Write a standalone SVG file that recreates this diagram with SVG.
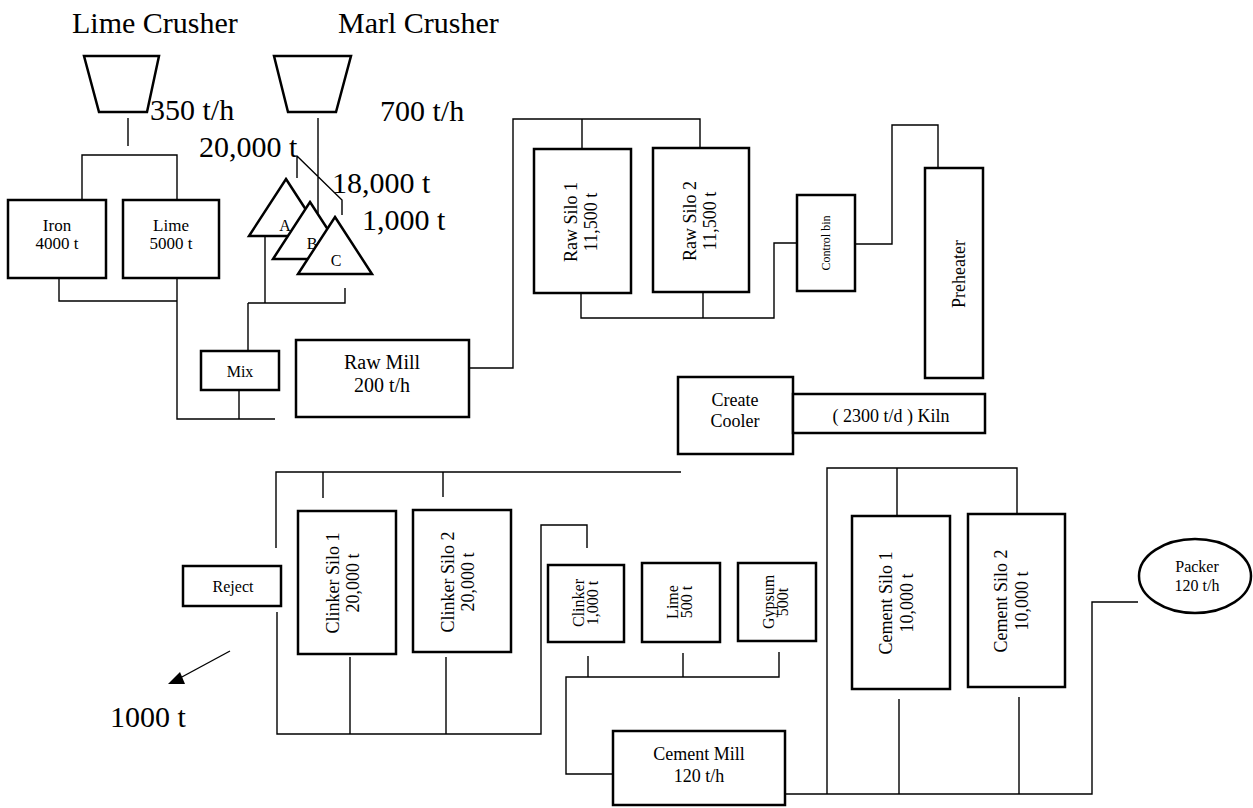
<svg xmlns="http://www.w3.org/2000/svg" width="1253" height="808" viewBox="0 0 1253 808">
<style>
text{font-family:"Liberation Serif","Times New Roman",serif;fill:#000}
.big{font-size:30px}
.lbl{font-size:18px;text-anchor:middle}
.sm{font-size:16px;text-anchor:middle}
.box{fill:#fff;stroke:#000;stroke-width:2.5}
.conn{fill:none;stroke:#000;stroke-width:1.4}
</style>
<rect width="1253" height="808" fill="#fff"/>
<g id="connectors" class="conn">
<path d="M128,118V146M82,200V155H177V200"/>
<path d="M318,118V213M297,156V178M297,156L342,200V215"/>
<path d="M265,236V303M248,303H345V288M248,303V351"/>
<path d="M59,278V301H177M177,278V419H275M239,391V419"/>
<path d="M469,368H513V119H700V148M582,119V149"/>
<path d="M581,293V318H774V243H797M703,292V318"/>
<path d="M855,244H892V125H938V168"/>
<path d="M276,548V472H681M277,612V734H541V525H587V548M323,472V498M443,472V497M350,657V734M446,657V734"/>
<path d="M588,656V677M683,653V677M779,652V677H566V774H613"/>
<path d="M785,794H1092V602H1138M827,794V468H1017V513M897,468V515M899,699V794M1019,697V794"/>
<path d="M230,651L180,678"/>
<polygon points="168,684 180,672 185,684" fill="#000" stroke="none"/>
</g>
<g id="lime-crusher">
<text class="big" x="72" y="33">Lime Crusher</text>
<polygon class="box" points="84,56 159,56 147,112 99,112"/>
<text class="big" x="150" y="120">350 t/h</text>
</g>
<g id="marl-crusher">
<text class="big" x="338" y="33">Marl Crusher</text>
<polygon class="box" points="274,56 351,56 336,112 288,112"/>
<text class="big" x="380" y="121">700 t/h</text>
</g>
<g id="stock-labels">
<text class="big" x="199" y="157">20,000 t</text>
<text class="big" x="332" y="193">18,000 t</text>
<text class="big" x="362" y="230">1,000 t</text>
</g>
<g id="pile-a">
<polygon class="box" points="286,179 323,236 249,236"/>
<text class="sm" x="285" y="231">A</text>
</g>
<g id="pile-b">
<polygon class="box" points="310,202 347,259 273,259"/>
<text class="sm" x="312" y="249">B</text>
</g>
<g id="pile-c">
<polygon class="box" points="335,217 372,274 298,274"/>
<text class="sm" x="336" y="266">C</text>
</g>
<g id="iron">
<rect class="box" x="8" y="200" width="98" height="78"/>
<text class="sm" x="57" y="231" style="font-size:17px">Iron</text>
<text class="sm" x="57" y="249" style="font-size:17px">4000 t</text>
</g>
<g id="lime">
<rect class="box" x="123" y="200" width="96" height="78"/>
<text class="sm" x="171" y="231" style="font-size:17px">Lime</text>
<text class="sm" x="171" y="249" style="font-size:17px">5000 t</text>
</g>
<g id="mix">
<rect class="box" x="201" y="351" width="78" height="39"/>
<text class="sm" x="240" y="377">Mix</text>
</g>
<g id="raw-mill">
<rect class="box" x="296" y="340" width="173" height="77"/>
<text class="lbl" x="382" y="369" style="font-size:20px">Raw Mill</text>
<text class="lbl" x="382" y="392" style="font-size:20px">200 t/h</text>
</g>
<g id="raw-silo-1">
<rect class="box" x="534" y="149" width="97" height="144"/>
<text class="lbl" transform="translate(582,222) rotate(-90)"><tspan x="0" y="-5">Raw Silo 1</tspan><tspan x="0" y="15">11,500 t</tspan></text>
</g>
<g id="raw-silo-2">
<rect class="box" x="653" y="148" width="96" height="144"/>
<text class="lbl" transform="translate(701,221) rotate(-90)"><tspan x="0" y="-5">Raw Silo 2</tspan><tspan x="0" y="15">11,500 t</tspan></text>
</g>
<g id="control-bin">
<rect class="box" x="797" y="195" width="58" height="96"/>
<text class="sm" transform="translate(826,243) rotate(-90)" style="font-size:12px"><tspan x="0" y="4">Control bin</tspan></text>
</g>
<g id="preheater">
<rect class="box" x="925" y="168" width="58" height="210"/>
<text class="lbl" transform="translate(954,274) rotate(-90)"><tspan x="0" y="11">Preheater</tspan></text>
</g>
<g id="cooler">
<rect class="box" x="678" y="377" width="115" height="77"/>
<text class="lbl" x="735" y="406">Create</text>
<text class="lbl" x="735" y="427">Cooler</text>
</g>
<g id="kiln">
<rect class="box" x="793" y="394" width="192" height="39"/>
<text class="lbl" x="891" y="422">( 2300 t/d ) Kiln</text>
</g>
<g id="reject">
<rect class="box" x="183" y="566" width="98" height="40"/>
<text class="sm" x="233" y="592">Reject</text>
</g>
<g id="reject-out">
<text class="big" x="110" y="727">1000 t</text>
</g>
<g id="clinker-silo-1">
<rect class="box" x="298" y="511" width="98" height="143"/>
<text class="lbl" transform="translate(347,583) rotate(-90)"><tspan x="0" y="-8">Clinker Silo 1</tspan><tspan x="0" y="12">20,000 t</tspan></text>
</g>
<g id="clinker-silo-2">
<rect class="box" x="413" y="510" width="98" height="142"/>
<text class="lbl" transform="translate(462,582) rotate(-90)"><tspan x="0" y="-8">Clinker Silo 2</tspan><tspan x="0" y="12">20,000 t</tspan></text>
</g>
<g id="clinker-bin">
<rect class="box" x="548" y="565" width="76" height="77"/>
<text class="sm" transform="translate(586,603) rotate(-90)"><tspan x="0" y="-2">Clinker</tspan><tspan x="0" y="12">1,000 t</tspan></text>
</g>
<g id="lime-bin">
<rect class="box" x="642" y="563" width="78" height="79"/>
<text class="sm" transform="translate(681,602) rotate(-90)"><tspan x="0" y="-3">Lime</tspan><tspan x="0" y="11">500 t</tspan></text>
</g>
<g id="gypsum-bin">
<rect class="box" x="738" y="563" width="78" height="78"/>
<text class="sm" transform="translate(777,602) rotate(-90)"><tspan x="0" y="-3">Gypsum</tspan><tspan x="0" y="11">500t</tspan></text>
</g>
<g id="cement-mill">
<rect class="box" x="613" y="731" width="172" height="74"/>
<text class="lbl" x="699" y="760">Cement Mill</text>
<text class="lbl" x="699" y="782">120 t/h</text>
</g>
<g id="cement-silo-1">
<rect class="box" x="852" y="516" width="98" height="173"/>
<text class="lbl" transform="translate(901,603) rotate(-90)"><tspan x="0" y="-9">Cement Silo 1</tspan><tspan x="0" y="12">10,000 t</tspan></text>
</g>
<g id="cement-silo-2">
<rect class="box" x="968" y="514" width="97" height="173"/>
<text class="lbl" transform="translate(1016,601) rotate(-90)"><tspan x="0" y="-9">Cement Silo 2</tspan><tspan x="0" y="12">10,000 t</tspan></text>
</g>
<g id="packer">
<ellipse class="box" cx="1195" cy="576" rx="56" ry="37"/>
<text class="sm" x="1197" y="572">Packer</text>
<text class="sm" x="1197" y="591">120 t/h</text>
</g>
</svg>
